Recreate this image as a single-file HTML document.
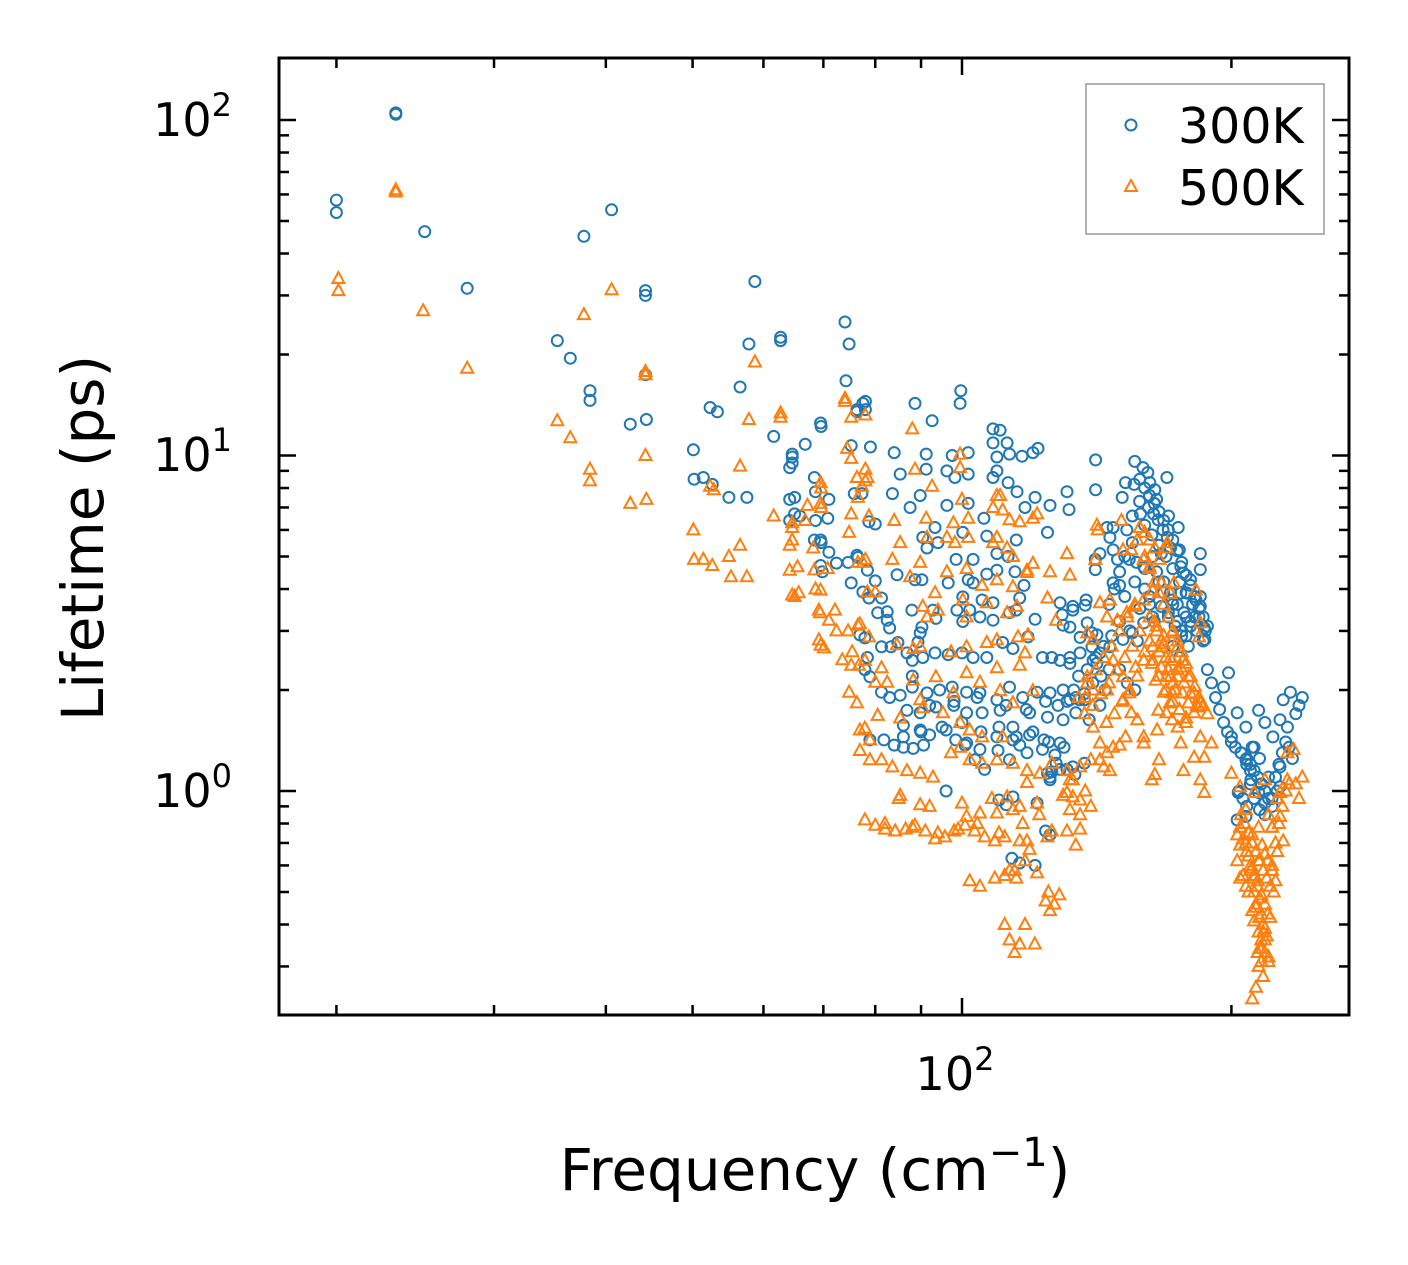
<!DOCTYPE html>
<html><head><meta charset="utf-8"><style>
html,body{margin:0;padding:0;background:#fff;}
svg{display:block;font-family:"DejaVu Sans","Liberation Sans",sans-serif;}
</style></head><body>
<svg id="chart" width="1408" height="1265" viewBox="0 0 1408 1265" xmlns="http://www.w3.org/2000/svg">
<rect x="0" y="0" width="1408" height="1265" fill="#fff"/>
<g id="marks300"></g>
<g id="marks500"></g>
<g id="ticks"></g>
<rect x="279" y="58" width="1070" height="957" fill="none" stroke="#000" stroke-width="3"/>
<text x="232" y="136" font-size="46" text-anchor="end">10<tspan font-size="32" dy="-20">2</tspan></text>
<text x="232" y="471" font-size="46" text-anchor="end">10<tspan font-size="32" dy="-20">1</tspan></text>
<text x="232" y="807" font-size="46" text-anchor="end">10<tspan font-size="32" dy="-20">0</tspan></text>
<text x="955" y="1090" font-size="46" text-anchor="middle">10<tspan font-size="32" dy="-20">2</tspan></text>
<text x="815" y="1190" font-size="58" text-anchor="middle">Frequency (cm<tspan font-size="40" dy="-24">−1</tspan><tspan dy="24">)</tspan></text>
<text transform="translate(103,538) rotate(-90)" font-size="58" text-anchor="middle">Lifetime (ps)</text>
<g>
<rect x="1086" y="84" width="238" height="150" fill="#fff" stroke="#999" stroke-width="1.5"/>
<circle cx="1131" cy="125" r="5.5" fill="none" stroke="#1f77b4" stroke-width="2"/>
<text x="1178" y="143" font-size="49">300K</text>
<path d="M1131,180 L1137,191 L1125,191 Z" fill="none" stroke="#ff7f0e" stroke-width="2"/>
<text x="1178" y="205" font-size="49">500K</text>
</g>
</svg>
<script>
const freq300=[20,20,23.3,23.3,25.1,28,35.3,36.5,37.8,38.4,38.4,40.6,42.6,44.3,44.3,44.3,44.4,50.1,50.2,51.4,52.3,53.3,52.6,54.9,56.5,57.5,57.8,58.7,61.6,62.7,62.7,64.2,64.6,64.2,65,65.9,66.8,68.6,69.5,69.6,70.8,68.4,69.5,69.8,74,74.8,74.2,76.3,77.5,
78,78,76.3,88.6,99.7,99.5,92.6,64.6,64.6,75.2,79,84,91.2,97.5,101.6,108.3,110.3,108.3,112.3,109.4,113,116.7,121.6,120,109.4,108.3,112.6,115.2,85.3,91.2,96.2,98.2,101.6,68.4,64.2,65,71,75.8,77.3,83.6,89.8,96.2,101.6,87.5,68.6,78.7,80,105.8,117.6,120.7,125.4,131,131.7,124.6,93.3,100.2,106.6,115,69.5,69.6,71,76.3,76.5,74.6,72.4,90.4,91.4,94,98.5,102.9,109.4,112.6,78.4,80,75.2,84.6,88.6,90.2,96.5,101.6,102.9,106.6,109.4,114.6,117.3,77.5,78.7,81.3,100.2,105.3,116,108.3,128.7,133,137.6,80.5,82.5,82.5,83,87.9,90.2,89.8,89.3,92.8,93.5,98.7,100.2,102,104.7,108.3,113,115,120.7,129.4,129.7,133,132,135.5,139.7,76.9,77.9,81.3,83.3,84.8,86.8,88,88,90.4,93.3,96.5,100,102.9,106.6,111,114,118.5,123,126,128.7,132,135.5,139.7,141.5,78.4,77.9,78.9,81.3,83,85.3,88,91.4,94.4,97.5,101.2,104.7,109.4,113,116.9,121.3,125.4,132,135.3,86.8,89.8,93.5,97.9,101.2,105.3,110.3,114,119,124.6,129.7,134,137,101.2,104.7,109.4,114,118.2,123,127.4,133,137,114,121.3,126,128.7,124.6,125.4,
81.8,84,86,88.2,90.6,78.9,96,110,112,113.7,116,120.7,124,125.4,125.4,128.7,
141,141,151,152.3,155.7,156,159.3,161.3,162.1,164.2,165,169.4,157.9,161.6,163.7,165.6,167.7,169.6,170.1,174.4,140.9,140.9,142.6,147.5,145.2,146.3,152.8,155,158.3,149.2,147.5,147.5,150,153.8,156.7,159.6,163.3,167,171,174.9,184.6,184.6,137.3,138,141.5,140.1,142.6,146.3,151.3,155,159.6,163.3,167,171.7,175.6,184.6,184.6,186.5,186.8,175.6,176.8,180,178.4,182.6,
198.5,196,203,207.6,214.5,218,226.6,232.8,228.5,231,222.5,212,207.6,203.5,203,207.6,214.5,218,226.6,226.6,210.3,
129.7,133.3,137,138.7,142.6,144.5,86,89.8,92,96,98.4,100.8,103.4,106,109.7,113,116,119,123.5,127,131,133.7,
170,172,174,176,178,168,166,172,175,178,180,182,160,162,164,150,153,156,205,208,211,215,220,225,200,210,216,222,236,238,240];
const life300=[57.7,53,105,104,46.5,31.5,22,19.5,45,15.6,14.6,54,12.4,31,30,17.4,12.8,10.4,8.5,8.6,13.9,13.5,8.2,7.5,16,7.5,21.5,33,11.4,22.5,22,9.2,9.5,6.4,6.7,6.6,10.8,7.8,12.5,12.2,6.5,5.6,4.7,4.5,25,21.5,16.7,13.5,14.3,
14.5,13.7,13.7,14.3,15.6,14.3,12.7,10.1,9.9,10.7,10.6,10.2,10.1,10,10.2,12,11.9,10.9,10.9,9.9,10.1,9.95,10.5,10.2,9,8.6,8.3,7.8,8.8,9.1,9,8.6,8.8,8.6,7.4,7.5,7.4,7.7,7.7,7.7,7.6,7.1,7.2,7,6.4,6.35,6.25,6.5,7,7.5,7.1,7.8,6.9,5.9,6.1,5.9,5.75,5.6,5.6,5.5,5.15,5.04,4.97,4.8,4.78,5.7,5.3,5.5,4.9,4.9,5.1,5,4.55,4.23,4.17,4.41,4.26,4.26,4.17,4.26,4.17,4.43,4.55,4.5,4.1,3.92,3.76,3.76,3.79,3.71,3.76,3.64,3.64,3.55,3.71,3.4,3.42,3.23,3.06,3.46,3.08,2.96,2.78,3.46,3.27,3.46,3.2,3.46,3.3,3.23,3.4,3.46,3.25,3.35,3.12,3.46,3.08,2.87,2.96,2.92,2.86,2.69,2.69,2.77,2.58,2.45,2.2,2.5,2.58,2.55,2.58,2.5,2.5,2.77,2.66,2.88,2.5,2.5,2.45,2.5,2.58,2.69,2.4,2.5,2.3,2.19,1.97,1.9,1.93,2.04,1.96,2,2.04,1.97,1.96,1.87,2.04,1.9,1.97,1.96,1.87,1.87,1.74,1.71,1.78,1.8,1.71,1.71,1.74,1.55,1.71,1.66,1.63,1.71,1.87,1.39,1.33,1.45,1.42,1.3,1.33,1.21,1.18,1.21,0.96,0.92,1.14,1.39,1.13,1.1,
1.42,1.37,1.35,1.34,1.37,1.42,1.0,0.94,0.91,0.63,0.61,0.6,0.76,0.74,1.08,1.16,
9.7,7.9,7.5,8.3,8.2,9.6,9.2,8.9,8.3,7.9,7.4,8.6,7.3,7,6.7,6.43,6,5.7,6.6,6.1,4.9,4.57,5.1,6.1,6.1,5.7,6,6.6,6.7,4.9,5.23,4.17,4.1,4.9,4.8,4.66,5,5.1,5.3,5.23,5.1,4.57,3.58,3.17,2.92,2.45,2.58,2.69,2.83,2.96,3.17,3.3,3.55,3.71,3.89,3.55,3.8,3.06,2.83,4.66,4.46,4.26,3.89,3.71,
2.25,2.04,1.71,1.55,1.74,1.6,1.63,1.97,1.87,1.55,1.45,1.35,1.24,0.99,0.82,0.84,0.99,0.92,1.03,1.18,1.08,
2,2,1.87,1.63,1.8,2,1.57,1.52,1.47,1.52,1.42,1.37,1.24,1.16,1.32,1.24,1.37,1.47,1.42,1.28,1.16,1.12,
3.4,3.6,3.2,3.0,3.3,3.9,4.2,2.7,2.5,2.9,3.1,3.3,4.0,3.6,3.2,2.3,2.1,2.0,1.3,1.2,1.35,1.25,1.1,1.0,1.4,1.15,1.05,0.95,1.7,1.8,1.9];
const freq300b=[158,160,162,164,166,168,170,172,174,176,178,180,182,184,186,188,160,163,166,169,172,175,178,181,184,187,165,168,171,174,177,180,183,186,170,173,176,179,155,152,150,148,146,152,156,160,158,162,150,154,157,147,144,141,146,143,140,137,134,131,128,138,135,132,
205,208,210,212,214,216,218,220,222,224,226,228,230,232,234,212,215,218,208,206,202,200,198,196,194,192,190,188,204,210,
86,90,95,100,105,110,115,120,125,130,92,98,104,112,118,124];
const life300b=[8.5,8,7.6,7.2,6.8,6.4,6,5.6,5.2,4.8,4.4,4.1,3.8,3.5,3.3,3.1,6.2,5.8,5.4,5,4.6,4.2,3.9,3.6,3.3,3.0,4.5,4.2,3.9,3.6,3.4,3.2,3.0,2.8,3.3,3.1,2.9,2.7,5.5,5.0,4.5,4.0,3.6,3.8,4.2,4.6,3.5,3.8,3.2,3.0,2.8,2.9,2.7,2.5,2.3,2.2,2.1,1.95,1.9,1.85,1.8,2.3,2.2,2.4,
1.3,1.25,1.2,1.15,1.1,1.05,1.0,0.95,0.9,1.1,1.2,1.3,1.4,1.35,1.25,0.95,0.88,0.85,0.9,0.95,1.35,1.45,1.5,1.6,1.75,1.9,2.1,2.3,1.0,1.05,
1.45,1.5,1.55,1.6,1.5,1.55,1.45,1.5,1.4,1.35,1.8,1.85,1.9,1.8,1.75,1.85];
const freq500=[20.1,20.1,23.3,23.3,25,28,35.3,36.5,37.8,38.4,38.4,40.6,42.6,44.3,44.3,44.3,44.4,50.1,50.2,51.4,52.6,52.3,52.8,54.9,55.2,56.5,56.5,57.5,57.8,58.7,61.6,62.7,62.7,64.2,64.6,64.6,65,65.7,66.8,69.5,69.6,69.2,69.5,70.1,68.4,69.5,72.1,74,75.2,74.8,73.5,75.2,74.8,76.5,77.3,76.7,78,78,78,
74,75.2,88,74.4,76.3,78,78.4,69.5,69.6,88.6,99.5,99.5,92.6,100,109.4,110.3,108.3,111,113,116,121.3,120,109.4,108.3,112.3,114,118.2,120,131,125.4,132,67.2,64.6,64.6,75.2,78.7,84,91.2,97.8,101.6,85.3,91.4,96.2,98.2,101.6,68.2,64.2,65.5,70.8,76.5,77.5,83.6,89.8,87.5,96.2,101.2,105.3,109.4,114,118.2,124.6,127.4,68.6,69.2,69.4,71,72.4,74.6,76.5,76.9,78.4,80,78.7,93.3,90.4,91.4,94,100.2,101.2,106.6,112.3,115.2,118.5,115.5,75.4,77.9,81.3,84.6,88.2,89.8,97.2,101.2,106.6,109.4,116,117.6,80,82.5,88.2,93.5,97.8,101.2,104.7,109.4,110.3,114,120,76.3,80.5,85.3,89.8,90.4,95.2,99.5,102,105.3,111,76.9,77.9,78.9,81.3,83.6,86.8,89.8,92.8,97.2,99.5,102,105.3,109.4,114,118.2,122.2,126,131,135.5,133,131,133,121.3,118.2,101.2,104.7,109.4,112.3,114,116.9,118.2,116,124.6,126,131,113,115,121.3,119,
77.9,80,82,84.2,86.5,88.6,91,93.3,95.7,98,100.8,103.3,106,108.8,111.6,102,104.7,108.8,111.6,114.5,117.6,124,125.4,126.8,128.4,124.9,113,116,120.6,114.5,111.6,117.6,132,135.5,135.5,134,76.9,78.9,85.3,89.8,
141.5,141.8,150.7,158,160,162.1,164.2,166.2,169.6,169.4,140.9,151.3,154.6,157,159.6,162,142.6,146.3,145.2,149.2,152.8,156.3,159.6,163.3,167,171,172.5,182.6,184.6,184,138,140.1,138,140.1,137.3,145.2,147.5,151.3,153.8,156.3,159.6,163.3,167,171.7,174.2,176.4,179,181.7,184,163.3,167,169.2,164.6,168.1,170.8,165.7,169.2,171.7,174.2,176.4,179,181.7,171.7,175.6,151.3,154.6,157,152.3,159.6,165.2,171.7,174.2,177.9,184.6,140.1,142.6,145.2,144,139.3,147.5,159.6,166,175.6,176.8,181.7,184.6,186.5,190,184.6,186.5,200,204.5,
203,204.5,207.6,209,212,214.5,218,222,224,211,212,214.5,216.4,218,219.5,214.5,217,204.5,207.6,212,218,226.6,231,226.6,228.5,207.6,214.5,222,231,234.7,203,204.5,209,211,214,215,216,217,215,211,216.4,219.5,206,129.7,132,135.5,137.3,139.3,142.6,146.3,150,164.2,163,
166,168,170,172,165,167,169,171,173,162,164,212,213,215,210,218,220,222,225,236,238,240,211,213,216];
const life500=[33.7,31,62,61,27,18.2,12.7,11.3,26.3,9.1,8.4,31.2,7.2,17.8,17.4,10,7.4,6,4.9,4.9,4.7,8.1,7.9,5,4.35,5.4,9.3,4.35,12.8,19,6.6,13.4,13,5.4,5.6,3.84,3.8,3.9,6.4,7.2,7,2.82,2.72,2.67,4.56,3.97,3.46,14.5,9.8,5.9,2.46,2.37,1.97,7.5,8.1,2.37,8.4,4.9,13.2,
14.8,13,12,10.5,8.6,9.1,8.6,8.3,8,9.1,10.1,9.2,8.1,7.4,7.6,7.6,7,6.88,6.43,6.35,6.7,6.5,5.7,5.5,5.3,5,4.55,4.77,5.1,4.5,4.4,7.1,6.3,6.1,6.7,6.6,6.4,6.5,6.3,6.5,5.5,5.7,5.7,5.5,5.7,5.3,4.55,4.66,4.6,4.8,4.8,4.9,4.8,4.35,4.5,4.6,4.1,4.26,4.06,4.48,3.76,3.23,4,3.46,3.4,3.23,3,3,3.12,3.15,3.92,3.92,2.88,3.9,3.55,3.3,3.46,3.71,3.3,3.64,3.4,3.55,2.92,2.88,2.6,2.45,2.33,2.73,2.66,2.69,2.6,2.69,2.77,2.82,2.37,2.58,2.11,2.11,2.14,2.19,1.96,2.25,2.11,2.33,1.99,1.83,1.99,1.83,1.68,1.65,1.87,1.77,1.71,1.6,1.52,1.45,1.45,1.52,1.54,1.42,1.24,1.18,1.15,1.13,1.1,1.3,1.35,1.24,1.21,1.24,1.21,1.15,1.13,1.21,1.15,1.18,1.08,0.99,0.96,0.92,1.06,0.84,0.86,0.86,0.96,0.88,0.8,0.71,0.71,0.73,0.76,0.76,0.58,0.55,0.57,0.67,
0.82,0.79,0.77,0.76,0.77,0.79,0.76,0.72,0.73,0.76,0.79,0.76,0.73,0.71,0.73,0.54,0.52,0.55,0.56,0.58,0.62,0.47,0.44,0.46,0.49,0.5,0.36,0.35,0.35,0.33,0.4,0.4,1.08,0.94,0.77,0.69,1.32,1.24,0.97,0.91,
6.2,6,6.4,6.1,5.9,5.6,5.3,4.9,5.5,5.3,4.9,5.23,5.23,5.6,4.9,4.66,3.64,3.71,3.3,3.23,3.4,3.55,3.71,3.97,4.17,3.88,4.17,3.97,3.17,2.88,2.96,2.83,2.19,2,1.9,2,2.45,2.19,1.96,2.34,2.45,2.69,2.69,2.96,2.69,2.45,2.19,1.96,1.78,2.45,2.34,2.19,2.14,1.97,1.83,1.74,1.71,1.96,2.19,1.96,1.83,1.71,2.45,2.34,1.87,1.71,1.63,1.45,1.45,1.52,1.63,1.55,1.6,1.83,1.55,1.39,1.3,1.18,1.24,1.35,1.39,1.24,1.39,1.15,1.26,1.45,1.26,1.39,1.08,0.99,1.13,1.03,
0.62,0.55,0.52,0.5,0.55,0.62,0.65,0.58,0.54,0.44,0.41,0.38,0.34,0.39,0.43,0.3,0.28,0.78,0.88,0.99,1.08,0.99,1.08,0.84,0.71,0.7,0.78,0.78,1.3,1.33,0.74,0.69,0.64,0.59,0.54,0.48,0.43,0.38,0.34,0.74,0.69,0.62,0.56,0.97,0.88,0.85,1,0.9,1.24,1.15,1.37,1.12,1.08,
2.6,2.9,2.3,2.1,3.1,2.8,2.5,2.2,2.0,2.8,3.2,0.5,0.46,0.42,0.58,0.36,0.32,0.6,0.66,1.05,0.95,1.1,0.24,0.26,0.31];
const freq500b=[160,162,164,166,168,170,172,174,176,178,180,182,184,186,188,162,165,168,171,174,177,180,183,166,169,172,175,178,160,163,157,154,151,148,145,158,155,152,149,146,143,140,137,156,153,150,147,144,141,138,135,
205,207,209,211,213,215,217,219,221,223,210,212,214,216,218,213,215,217,216,218,220,214,219,221,208,206,224,226,228,230,232,225,220,222,
82,88,94,99,104,110,85,92,100,108,116,122];
const life500b=[5,4.6,4.2,3.9,3.6,3.3,3.0,2.8,2.6,2.4,2.2,2.05,1.9,1.8,1.7,3.3,3.0,2.75,2.5,2.3,2.1,1.95,1.8,2.2,2.0,1.85,1.75,1.65,2.6,2.4,2.2,2.0,1.85,1.7,1.6,3.0,2.7,2.5,2.3,2.1,1.95,1.8,1.7,3.6,3.3,3.0,2.7,2.5,2.3,2.1,1.9,
0.85,0.8,0.75,0.7,0.66,0.62,0.58,0.55,0.52,0.5,0.6,0.56,0.52,0.49,0.46,0.45,0.42,0.4,0.36,0.33,0.31,0.33,0.37,0.42,0.66,0.72,0.7,0.8,0.9,1.0,1.05,0.95,0.85,0.78,
0.8,0.78,0.75,0.77,0.8,0.75,0.95,0.9,0.92,0.95,0.9,0.85];
const xTicksMajor=[100];
const xTicksMinor=[20,30,40,50,60,70,80,90,200];
const yTicksMajor=[1,10,100];
const yTicksMinor=[0.3,0.4,0.5,0.6,0.7,0.8,0.9,2,3,4,5,6,7,8,9,20,30,40,50,60,70,80,90];

const X0=279,X1=1349,Y0=58,Y1=1015;
function xScale(f){return 962+895*(Math.log10(f)-2);}
function yScale(v){return 791-335.5*Math.log10(v);}
const NS='http://www.w3.org/2000/svg';
function mk(tag,attrs,parent){const e=document.createElementNS(NS,tag);for(const k in attrs)e.setAttribute(k,attrs[k]);parent.appendChild(e);return e;}

const all300f=freq300.concat(freq300b), all300l=life300.concat(life300b);
const all500f=freq500.concat(freq500b), all500l=life500.concat(life500b);
const g3=document.getElementById('marks300');
for(let i=0;i<all300f.length;i++){
  const c=mk('circle',{cx:xScale(all300f[i]).toFixed(1),cy:yScale(all300l[i]).toFixed(1),r:5.5,fill:'none',stroke:'#1f77b4','stroke-width':2},g3);
  
  
}
const g5=document.getElementById('marks500');
for(let i=0;i<all500f.length;i++){
  const x=xScale(all500f[i]),y=yScale(all500l[i]);
  const p=mk('path',{d:`M${x.toFixed(1)},${(y-6.5).toFixed(1)} L${(x+6).toFixed(1)},${(y+4.5).toFixed(1)} L${(x-6).toFixed(1)},${(y+4.5).toFixed(1)} Z`,fill:'none',stroke:'#ff7f0e','stroke-width':2},g5);
  
  
}
const gt=document.getElementById('ticks');
function xt(v,len){const x=xScale(v);
  const a=mk('line',{x1:x,x2:x,y1:Y1,y2:Y1-len,stroke:'#000','stroke-width':2.5},gt);
  
  
  const b=mk('line',{x1:x,x2:x,y1:Y0,y2:Y0+len,stroke:'#000','stroke-width':2.5},gt);
  
  }
function yt(v,len){const y=yScale(v);
  const a=mk('line',{x1:X0,x2:X0+len,y1:y,y2:y,stroke:'#000','stroke-width':2.5},gt);
  
  
  const b=mk('line',{x1:X1,x2:X1-len,y1:y,y2:y,stroke:'#000','stroke-width':2.5},gt);
  
  }
xTicksMajor.forEach(v=>xt(v,17));
xTicksMinor.forEach(v=>xt(v,10));
yTicksMajor.forEach(v=>yt(v,17));
yTicksMinor.forEach(v=>yt(v,10));
</script>
</body></html>
